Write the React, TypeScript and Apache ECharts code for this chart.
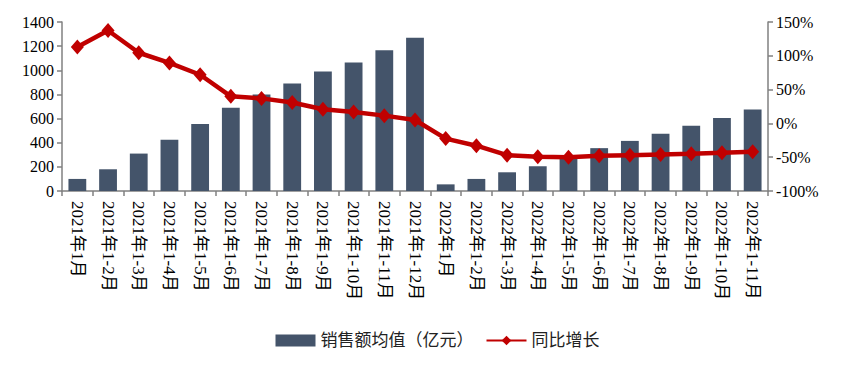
import React, { useEffect, useRef } from "react";
import * as echarts from "echarts";

const categories = [
  "2021年1月", "2021年1-2月", "2021年1-3月", "2021年1-4月", "2021年1-5月", "2021年1-6月",
  "2021年1-7月", "2021年1-8月", "2021年1-9月", "2021年1-10月", "2021年1-11月", "2021年1-12月",
  "2022年1月", "2022年1-2月", "2022年1-3月", "2022年1-4月", "2022年1-5月", "2022年1-6月",
  "2022年1-7月", "2022年1-8月", "2022年1-9月", "2022年1-10月", "2022年1-11月",
];
const salesAvg = [100, 180, 310, 425, 555, 690, 800, 890, 990, 1065, 1165, 1270, 55, 100, 155, 205, 280, 355, 415, 475, 540, 605, 675];
const yoyGrowth = [113, 137.5, 104.5, 89.5, 72, 40, 37, 31, 21, 17, 11.5, 5, -22.5, -33, -47, -49.5, -50, -48, -47, -46, -45, -43.5, -42];
const leftTicks = { min: 0, max: 1400, interval: 200 };
const rightTicks = { min: -100, max: 150, interval: 50 };

const FONT = "'Liberation Serif', 'Noto Sans CJK SC', serif";

export default function App() {
  const ref = useRef<HTMLDivElement>(null);
  useEffect(() => {
    const chart = echarts.init(ref.current!, null, { renderer: "svg" });
    const axisLine = { show: true, lineStyle: { color: "#808080", width: 1.5 } };
    const axisTick = { show: true, length: 5, lineStyle: { color: "#808080", width: 1.5 } };
    chart.setOption({
      animation: false,
      textStyle: { fontFamily: FONT },
      grid: { left: 54, right: 99, top: 14, bottom: 177 },
      legend: {
        bottom: 14,
        left: "center",
        itemGap: 12,
        textStyle: { fontSize: 17, color: "#222", fontFamily: FONT },
        data: [
          { name: "销售额均值（亿元）", icon: "rect", itemStyle: { color: "#44546A" } },
          { name: "同比增长" },
        ],
        itemWidth: 40,
        itemHeight: 12,
      },
      xAxis: {
        type: "category",
        data: categories,
        axisLine,
        axisTick,
        axisLabel: { rotate: -90, fontSize: 17, color: "#000", margin: 10, interval: 0, fontFamily: FONT },
      },
      yAxis: [
        {
          type: "value",
          ...leftTicks,
          axisLine,
          axisTick,
          splitLine: { show: false },
          axisLabel: { fontSize: 16, color: "#000", margin: 8, fontFamily: FONT, formatter: (v: number) => String(v) },
        },
        {
          type: "value",
          ...rightTicks,
          axisLine,
          axisTick,
          splitLine: { show: false },
          axisLabel: { fontSize: 16, color: "#000", margin: 8, formatter: (v: number) => v + "%", fontFamily: FONT },
        },
      ],
      series: [
        {
          name: "销售额均值（亿元）",
          type: "bar",
          data: salesAvg,
          barWidth: "58%",
          itemStyle: { color: "#44546A" },
        },
        {
          name: "同比增长",
          type: "line",
          yAxisIndex: 1,
          data: yoyGrowth,
          symbol: "diamond",
          symbolSize: [13, 15],
          lineStyle: { color: "#C00000", width: 4.5 },
          itemStyle: { color: "#C00000" },
        },
      ],
    });
    return () => chart.dispose();
  }, []);
  return <div ref={ref} style={{ width: 859, height: 360 }} />;
}
